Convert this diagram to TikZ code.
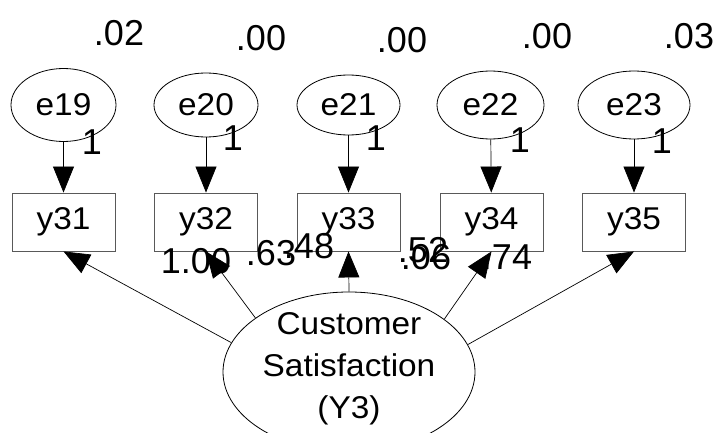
\documentclass[tikz,border=0pt]{standalone}
\usepackage{fontspec}
\setmainfont{Liberation Sans}
\usetikzlibrary{arrows.meta,shapes.geometric}
\newcommand{\wx}[1]{\scalebox{1.06}[1]{#1}}
\begin{document}
\begin{tikzpicture}[x=1pt,y=-1pt,
  obs/.style={draw=black!65, line width=0.9pt, rectangle, minimum width=103pt, minimum height=58pt, inner sep=0pt, font=\fontsize{31.5}{36}\selectfont},
  err/.style={draw=black, line width=0.8pt, ellipse, inner sep=0pt, font=\fontsize{31.5}{36}\selectfont},
  lat/.style={draw=black, line width=0.8pt, ellipse, minimum width=252pt, minimum height=160pt, inner sep=0pt},
  lattxt/.style={font=\fontsize{31.5}{36}\selectfont, inner sep=0pt, anchor=base},
  est/.style={font=\fontsize{36}{40}\selectfont, inner sep=0pt},
  arr/.style={-{Triangle[width=21pt,length=26pt]}, line width=0.7pt, draw=black},
]
\useasboundingbox (0,0) rectangle (720,433);

% error terms
\node[err, minimum width=105pt, minimum height=73pt] (e19) at (63.5,105) {\wx{e19}};
\node[err, minimum width=104pt, minimum height=64pt] (e20) at (206,105) {\wx{e20}};
\node[err, minimum width=103pt, minimum height=60pt] (e21) at (348.5,105) {\wx{e21}};
\node[err, minimum width=107pt, minimum height=68pt] (e22) at (490.5,105) {\wx{e22}};
\node[err, minimum width=112pt, minimum height=68pt] (e23) at (634,105) {\wx{e23}};

% observed variables
\node[obs] (y31) at (63.5,222) {\wx{y31}};
\node[obs] (y32) at (206,222) {\wx{y32}};
\node[obs] (y33) at (348.5,222) {\wx{y33}};
\node[obs] (y34) at (491.5,222) {\wx{y34}};
\node[obs] (y35) at (634,222) {\wx{y35}};

% latent variable
\node[lat] (Y3) at (349,372) {};
\node[lattxt] (t1) at (349,334) {\wx{Customer}};
\node[lattxt] (t2) at (349,376) {\wx{Satisfaction}};
\node[lattxt] (t3) at (349,418) {\wx{(Y3)}};

% error arrows
\draw[arr] (e19) -- (y31);
\draw[arr] (e20) -- (y32);
\draw[arr] (e21) -- (y33);
\draw[arr] (e22) -- (y34);
\draw[arr] (e23) -- (y35);

% loadings
\draw[arr] (Y3.166) -- (y31.south);
\draw[arr] (Y3.150.6) -- (y32.south);
\draw[arr] (Y3.north) -- (y33.south);
\draw[arr] (Y3.29.9) -- (y34.south);
\draw[arr] (Y3.13.7) -- (y35.south);

% variances / R^2
\node[est] (r19) at (119,33) {.02};
\node[est] (r20) at (261,38) {.00};
\node[est] (r21) at (402,40) {.00};
\node[est] (r22) at (547,36.5) {.00};
\node[est] (r23) at (689,36.5) {.03};

% fixed paths
\node[est] (f19) at (92,142) {1};
\node[est] (f20) at (233,138) {1};
\node[est] (f21) at (376,138) {1};
\node[est] (f22) at (520,140) {1};
\node[est] (f23) at (662,141) {1};

% loading estimates
\node[est] (l1) at (196,261) {1.00};
\node[est] (l2) at (271,253) {.63};
\node[est] (l3) at (309,246) {.48};
\node[est] (l4) at (423,250) {.52};
\node[est] (l5) at (426,257) {.06};
\node[est] (l6) at (507,257) {.74};
\end{tikzpicture}
\end{document}
